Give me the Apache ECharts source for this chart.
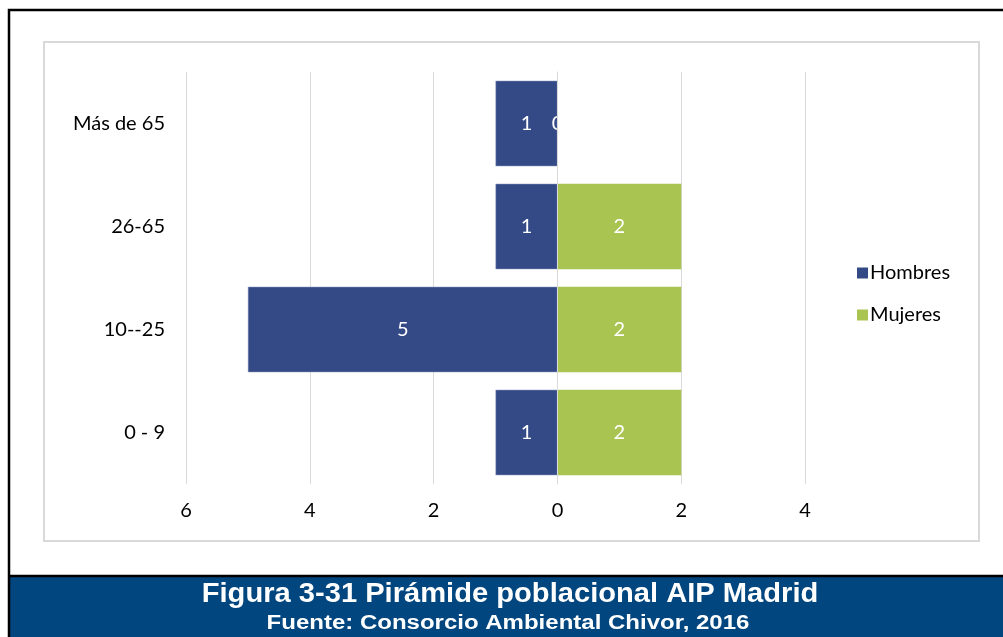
<!DOCTYPE html>
<html>
<head>
<meta charset="utf-8">
<script src="https://cdn.jsdelivr.net/npm/echarts@6/dist/echarts.min.js"></script>
<style>
  html, body { margin: 0; padding: 0; background: #fff; }
  #chart { width: 1003px; height: 637px; }
</style>
</head>
<body>
<div id="chart"></div>
<script>
// grupos de edad, de abajo hacia arriba
var categories = ['0 - 9', '10--25', '26-65', 'Más de 65']
// hombres van a la izquierda (negativos)
var hombres = [-1, -5, -1, -1]
var mujeres = [2, 2, 2, 0]

var tituloFigura = 'Figura 3-31 Pirámide poblacional AIP Madrid'
var fuenteFigura = 'Fuente: Consorcio Ambiental Chivor, 2016'

var labelFont = 'Century Gothic, Lato, sans-serif'

var myChart = echarts.init(document.getElementById('chart'))
var option = {
  animation: false,
  legend: {
    orient: 'vertical',
    left: 852,
    top: 258,
    itemWidth: 11,
    itemHeight: 11,
    itemGap: 22,
    icon: 'rect',
    itemStyle: { borderWidth: 0 },
    textStyle: { fontFamily: labelFont, fontSize: 20, color: '#000', padding: [0, 0, 0, -3] },
    data: ['Hombres', 'Mujeres']
  },
  grid: {
    left: 186,
    right: 136,
    top: 72,
    bottom: 153
  },
  xAxis: {
    type: 'value',
    min: -6,
    max: 5,
    interval: 2,
    axisLine: { show: false },
    axisTick: { show: false },
    splitLine: { showMaxLine: false, lineStyle: { color: '#d9d9d9' } },
    axisLabel: {
      showMaxLabel: false,
      margin: 17,
      fontFamily: labelFont,
      fontSize: 20,
      color: '#000',
      formatter: function (v) { return Math.abs(v) }
    }
  },
  yAxis: {
    type: 'category',
    data: categories,
    axisLine: { show: true, onZero: true, lineStyle: { color: '#d9d9d9', width: 1 } },
    axisTick: { show: false },
    axisLabel: { margin: 21, fontFamily: labelFont, fontSize: 20, color: '#000' },
    z: 5
  },
  series: [
    {
      name: 'Hombres',
      type: 'bar',
      data: hombres,
      barGap: '-100%',
      barCategoryGap: '17%',
      itemStyle: { color: '#344a87', borderColor: '#8d9bc0', borderWidth: 0.5 },
      label: {
        show: true,
        position: 'inside',
        color: '#fff',
        fontFamily: labelFont,
        fontSize: 20,
        formatter: function (p) { return Math.abs(p.value) }
      }
    },
    {
      name: 'Mujeres',
      type: 'bar',
      data: mujeres,
      barGap: '-100%',
      barCategoryGap: '17%',
      itemStyle: { color: '#a9c451' },
      label: {
        show: true,
        position: 'inside',
        color: '#fff',
        fontFamily: labelFont,
        fontSize: 20
      }
    }
  ],
  graphic: [
    {
      type: 'rect',
      shape: { x: 44, y: 42, width: 935, height: 499 },
      style: { fill: null, stroke: '#d9d9d9', lineWidth: 2 },
      silent: true,
      z: -1
    },
    {
      type: 'rect',
      shape: { x: 10, y: 576, width: 995, height: 62 },
      style: { fill: '#01467e', stroke: null },
      silent: true,
      z: -1
    },
    {
      type: 'rect',
      shape: { x: 9, y: 10, width: 1000, height: 640 },
      style: { fill: null, stroke: '#000', lineWidth: 2.5 },
      silent: true,
      z: 0
    },
    {
      type: 'line',
      shape: { x1: 9, y1: 576, x2: 1003, y2: 576 },
      style: { stroke: '#000', lineWidth: 2.5 },
      silent: true,
      z: 0
    },
    {
      type: 'text',
      x: 510,
      y: 594,
      scaleX: 1.04,
      silent: true,
      z: 1,
      style: {
        text: tituloFigura,
        fill: '#fff',
        font: 'bold 28px "Liberation Sans", Arial, sans-serif',
        align: 'center',
        verticalAlign: 'middle'
      }
    },
    {
      type: 'text',
      x: 508,
      y: 623,
      scaleX: 1.2,
      silent: true,
      z: 1,
      style: {
        text: fuenteFigura,
        fill: '#fff',
        font: 'bold 20px "Liberation Sans", Arial, sans-serif',
        align: 'center',
        verticalAlign: 'middle'
      }
    }
  ]
}
myChart.setOption(option)
</script>
</body>
</html>
